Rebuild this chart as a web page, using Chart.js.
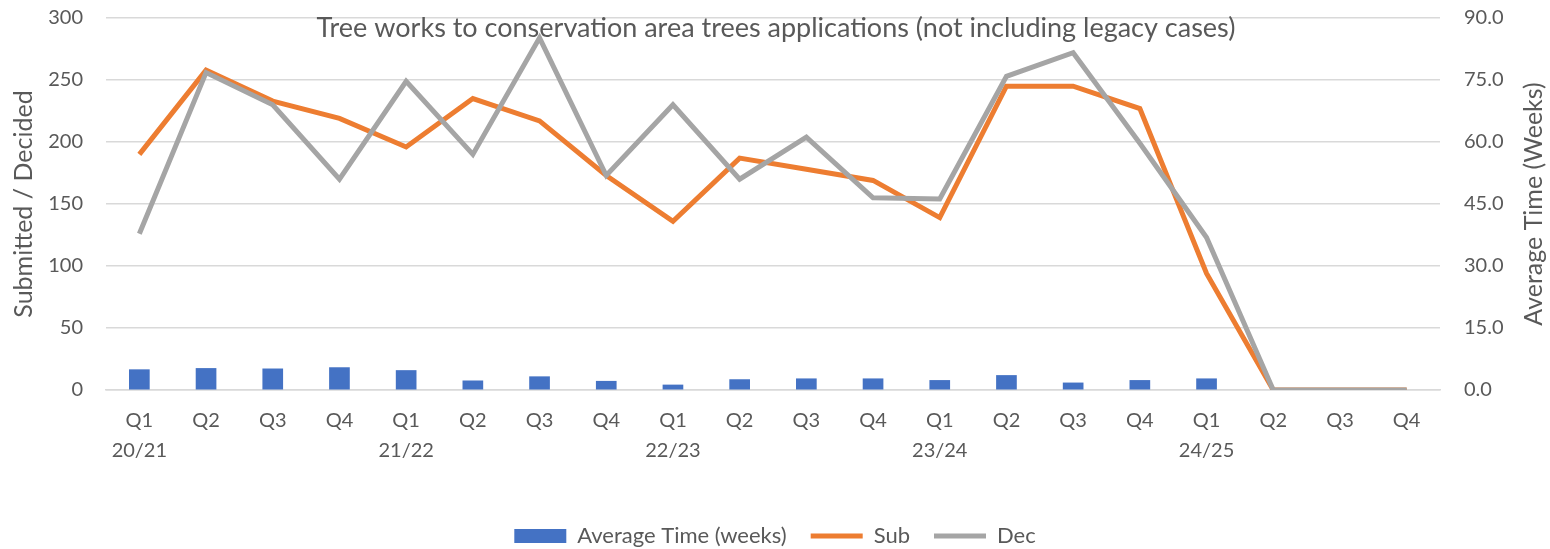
<!DOCTYPE html>
<html>
<head>
<meta charset="utf-8">
<script src="https://cdn.jsdelivr.net/npm/chart.js@4"></script>
<style>
  html, body { margin: 0; padding: 0; background: #fff; }
  #wrap { width: 1550px; height: 549px; }
</style>
</head>
<body>
<div id="wrap"><canvas id="treeChart"></canvas></div>
<script>
// Quarter labels (financial years)
const quarters = [
    ['Q1', '20/21'], 'Q2', 'Q3', 'Q4',
    ['Q1', '21/22'], 'Q2', 'Q3', 'Q4',
    ['Q1', '22/23'], 'Q2', 'Q3', 'Q4',
    ['Q1', '23/24'], 'Q2', 'Q3', 'Q4',
    ['Q1', '24/25'], 'Q2', 'Q3', 'Q4'
];

// Series
const avgTimeWeeks = [5.0, 5.3, 5.2, 5.5, 4.8, 2.3, 3.3, 2.2, 1.3, 2.6, 2.8, 2.8, 2.4, 3.6, 1.8, 2.4, 2.8, 0, 0, 0];
const submitted = [190, 258, 233, 219, 196, 235, 217, 173, 136, 187, 178, 169, 139, 245, 245, 227, 94, 0, 0, 0];
const decided = [126, 256, 230, 170, 249, 190, 284, 173, 230, 170, 204, 155, 154, 253, 272, 199, 123, 0, 0, 0];

const leftTicks = [0, 50, 100, 150, 200, 250, 300];
const rightTicks = [0, 15, 30, 45, 60, 75, 90];

const chartTitle = 'Tree works to conservation area trees applications (not including legacy cases)';
const rightTitle = 'Average Time (Weeks)';

const FONT = 'Lato';
const TEXT = '#595959';
const CLEAR = 'rgba(0,0,0,0)';

// Excel draws its title over the plot and the right title reading upwards
const overlayText = {
    id: 'overlayText',
    afterDraw(chart) {
        const ctx = chart.ctx;
        const area = chart.chartArea;
        ctx.save();
        ctx.fillStyle = TEXT;
        ctx.font = '27px ' + FONT;
        ctx.textAlign = 'center';
        ctx.textBaseline = 'middle';
        ctx.fillText(chartTitle, 776, 28);

        ctx.font = '25px ' + FONT;
        ctx.translate(1534, (area.top + area.bottom) / 2);
        ctx.rotate(-Math.PI / 2);
        ctx.fillText(rightTitle, 0, 0);
        ctx.restore();
    }
};

const ctx = document.getElementById('treeChart').getContext('2d');
new Chart(ctx, {
    data: {
        labels: quarters,
        datasets: [
            {
                type: 'line',
                label: 'Sub',
                data: submitted,
                yAxisID: 'y',
                borderColor: '#ED7D31',
                backgroundColor: '#ED7D31',
                borderWidth: 5,
                pointRadius: 0,
                pointStyle: 'line',
                tension: 0,
                order: 2
            },
            {
                type: 'line',
                label: 'Dec',
                data: decided,
                yAxisID: 'y',
                borderColor: '#A5A5A5',
                backgroundColor: '#A5A5A5',
                borderWidth: 5,
                pointRadius: 0,
                pointStyle: 'line',
                tension: 0,
                order: 1
            },
            {
                type: 'bar',
                label: 'Average Time (weeks)',
                data: avgTimeWeeks,
                yAxisID: 'y1',
                backgroundColor: '#4472C4',
                pointStyle: 'rect',
                categoryPercentage: 1,
                barPercentage: 0.31,
                order: 3
            }
        ]
    },
    options: {
        responsive: true,
        maintainAspectRatio: false,
        animation: false,
        layout: { padding: { top: 18, bottom: -8, left: 0, right: 0 } },
        plugins: {
            title: { display: false },
            tooltip: { enabled: false },
            legend: {
                position: 'bottom',
                reverse: true,
                labels: {
                    usePointStyle: true,
                    pointStyleWidth: 52,
                    boxHeight: 14,
                    color: TEXT,
                    font: { family: FONT, size: 22 },
                    padding: 24
                }
            }
        },
        scales: {
            x: {
                offset: true,
                grid: { display: false, drawTicks: false },
                border: { color: '#d9d9d9', width: 1.5 },
                ticks: {
                    color: TEXT,
                    font: { family: FONT, size: 20, lineHeight: 1.5 },
                    maxRotation: 0,
                    autoSkip: false,
                    padding: 16
                },
                afterFit: s => { s.height += 19; }
            },
            y: {
                position: 'left',
                min: 0,
                max: 300,
                afterBuildTicks: s => { s.ticks = leftTicks.map(v => ({ value: v })); },
                // transparent tick marks keep the labels away from the plot
                grid: { color: '#d9d9d9', lineWidth: 1.5, drawTicks: true, tickLength: 23, tickColor: CLEAR },
                border: { display: false },
                ticks: { color: TEXT, font: { family: FONT, size: 20 }, padding: 0 },
                title: {
                    display: true,
                    text: 'Submitted / Decided',
                    color: TEXT,
                    font: { family: FONT, size: 25 },
                    padding: 9
                },
                afterFit: s => { s.width = 106; }
            },
            y1: {
                position: 'right',
                min: 0,
                max: 90,
                afterBuildTicks: s => { s.ticks = rightTicks.map(v => ({ value: v })); },
                grid: { color: CLEAR, drawOnChartArea: false, drawTicks: true, tickLength: 24, tickColor: CLEAR },
                border: { display: false },
                ticks: {
                    color: TEXT,
                    font: { family: FONT, size: 20 },
                    padding: 0,
                    callback: v => Number(v).toFixed(1)
                },
                afterFit: s => { s.width = 110; }
            }
        }
    },
    plugins: [overlayText]
});
</script>
</body>
</html>
